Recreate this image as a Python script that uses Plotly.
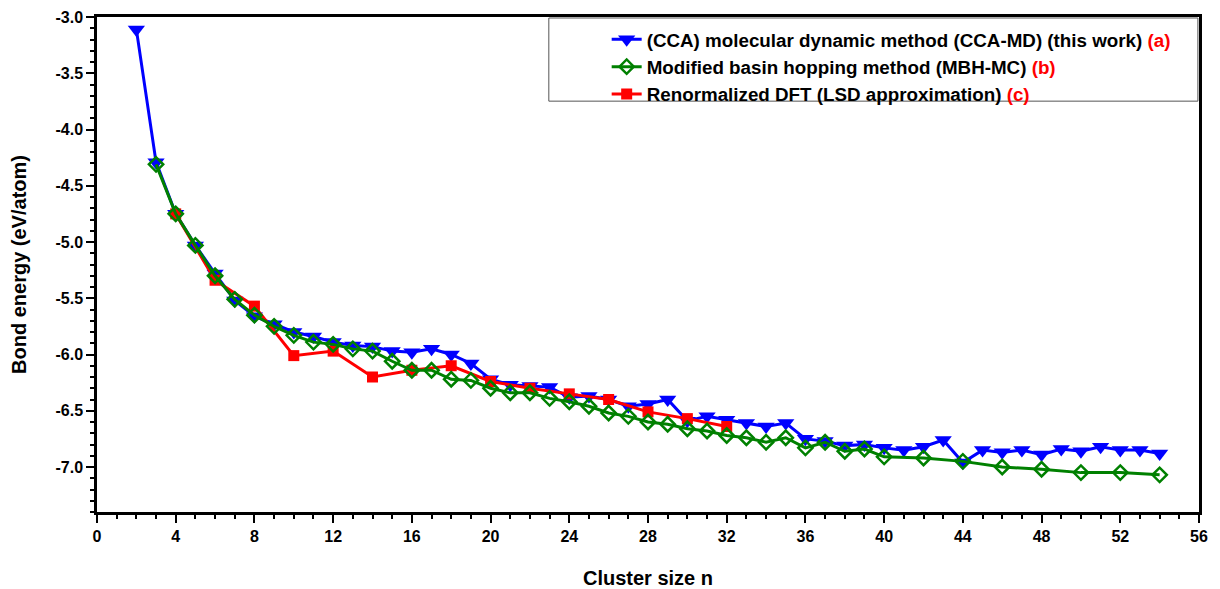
import plotly.graph_objects as go

# Cluster sizes and bond energies (eV/atom)
n_cca = list(range(2, 55))
e_cca = [-3.11, -4.29, -4.75, -5.03, -5.28, -5.52, -5.66, -5.73, -5.80, -5.84,
         -5.89, -5.92, -5.93, -5.97, -5.98, -5.95, -6.00, -6.08, -6.22, -6.27,
         -6.28, -6.29, -6.38, -6.37, -6.40, -6.46, -6.44, -6.40, -6.59, -6.55,
         -6.58, -6.61, -6.64, -6.61, -6.75, -6.77, -6.81, -6.80, -6.83, -6.85,
         -6.82, -6.76, -6.96, -6.85, -6.87, -6.85, -6.89, -6.84, -6.86, -6.82,
         -6.85, -6.85, -6.88]

n_mbh = list(range(3, 41)) + [42, 44, 46, 48, 50, 52, 54]
e_mbh = [-4.31, -4.75, -5.03, -5.30, -5.51, -5.65, -5.75, -5.83, -5.89, -5.91,
         -5.95, -5.97, -6.06, -6.14, -6.14, -6.22, -6.23, -6.30, -6.34, -6.34,
         -6.39, -6.42, -6.46, -6.52, -6.55, -6.60, -6.62, -6.66, -6.68, -6.72,
         -6.74, -6.78, -6.74, -6.83, -6.78, -6.86, -6.84, -6.91,
         -6.92, -6.95, -7.00, -7.02, -7.05, -7.05, -7.07]

n_dft = [4, 6, 8, 10, 12, 14, 16, 18, 20, 22, 24, 26, 28, 30, 32]
e_dft = [-4.75, -5.34, -5.57, -6.01, -5.97, -6.20, -6.14, -6.10, -6.24, -6.30,
         -6.35, -6.40, -6.51, -6.57, -6.64]

x_ticks = list(range(0, 57, 4))
y_ticks = [-3.0, -3.5, -4.0, -4.5, -5.0, -5.5, -6.0, -6.5, -7.0]

FONT = "Arial, Liberation Sans, sans-serif"

fig = go.Figure()
fig.add_trace(go.Scatter(
    x=n_cca, y=e_cca, mode="lines+markers", legendrank=1,
    name="(CCA) molecular dynamic method (CCA-MD) (this work) <span style='color:#ff0000'>(a)</span>",
    line=dict(color="#0000ff", width=3),
    marker=dict(symbol="triangle-down", size=15, color="#0000ff")))
fig.add_trace(go.Scatter(
    x=n_dft, y=e_dft, mode="lines+markers", legendrank=3,
    name="Renormalized DFT (LSD approximation) <span style='color:#ff0000'>(c)</span>",
    line=dict(color="#ff0000", width=3),
    marker=dict(symbol="square", size=11, color="#ff0000")))
fig.add_trace(go.Scatter(
    x=n_mbh, y=e_mbh, mode="lines+markers", legendrank=2,
    name="Modified basin hopping method (MBH-MC) <span style='color:#ff0000'>(b)</span>",
    line=dict(color="#008000", width=3),
    marker=dict(symbol="diamond-open", size=11, color="#008000",
                line=dict(width=2.5, color="#008000"))))

axis_common = dict(
    showgrid=False, zeroline=False, showline=True, linecolor="black",
    linewidth=2.5, mirror=True, ticks="outside", tickwidth=2,
    ticklen=8, tickcolor="black", automargin=False,
    tickfont=dict(family=FONT, size=16, color="black", weight="bold"),
)

fig.update_xaxes(
    range=[0, 56], tickvals=x_ticks, ticktext=[str(v) for v in x_ticks],
    minor=dict(dtick=1, ticks="outside", ticklen=4, tickwidth=2, tickcolor="black"),
    title=dict(text="Cluster size n", standoff=28,
               font=dict(family=FONT, size=20, color="black", weight="bold")),
    **axis_common)
fig.update_yaxes(
    range=[-7.4, -3.0], tickvals=y_ticks, ticktext=[f"{v:.1f}" for v in y_ticks],
    minor=dict(dtick=0.1, tick0=-3.0, ticks="outside", ticklen=4, tickwidth=2, tickcolor="black"),
    title=dict(text="Bond energy (eV/atom)", standoff=28,
               font=dict(family=FONT, size=20, color="black", weight="bold")),
    **axis_common)

# legend frame (drawn as a shape so it can be wider than the entries)
fig.add_shape(type="rect", xref="paper", yref="paper",
              x0=0.410, x1=0.999, y0=0.830, y1=0.998,
              line=dict(color="#555555", width=1), fillcolor="white", layer="below")

# the page body adds an 8px offset, so margins are compensated
fig.update_layout(
    width=1220, height=589,
    margin=dict(l=89, r=29, t=9, b=85),
    paper_bgcolor="white", plot_bgcolor="white",
    showlegend=True,
    legend=dict(
        x=0.4625, y=0.993, xanchor="left", yanchor="top",
        bgcolor="rgba(0,0,0,0)", borderwidth=0,
        font=dict(family=FONT, size=18.8, color="black", weight="bold"),
        tracegroupgap=0,
    ),
)

fig.write_html("out.html")
